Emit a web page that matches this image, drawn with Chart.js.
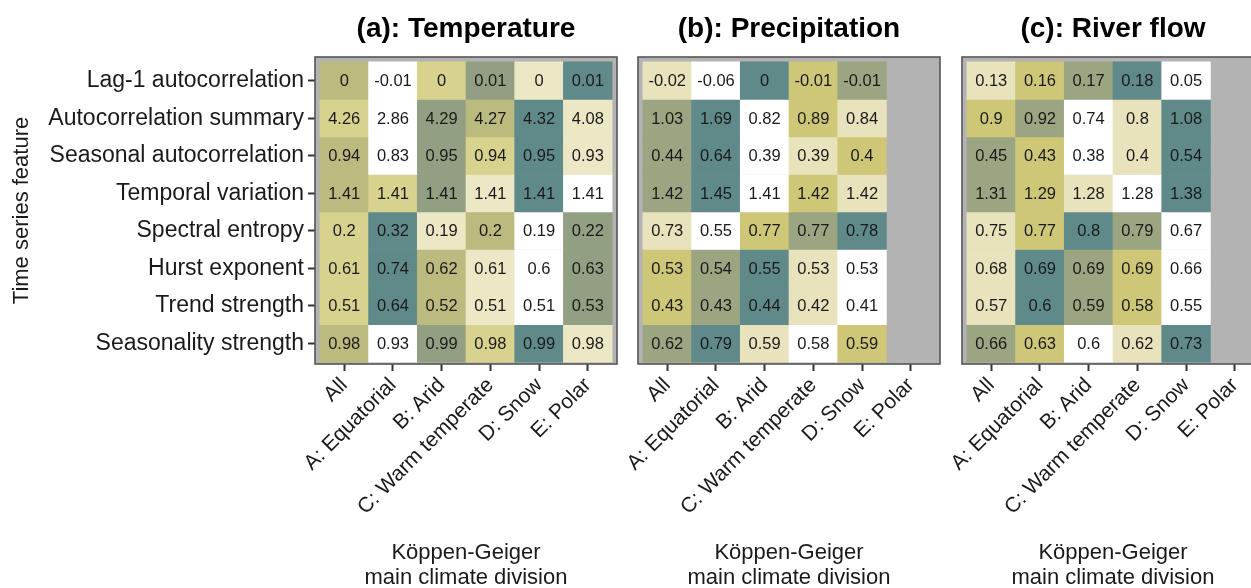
<!DOCTYPE html>
<html>
<head>
<meta charset="utf-8">
<script src="https://cdn.jsdelivr.net/npm/chart.js@4/dist/chart.umd.min.js"></script>
<style>
  body { margin: 0; width: 1251px; height: 588px; overflow: hidden; background: #fff; }
  .panel { position: absolute; top: 0; }
</style>
</head>
<body>
<div class="panel" style="left:0px"><canvas id="tempChart" width="625" height="591"></canvas></div>
<div class="panel" style="left:625px"><canvas id="precipChart" width="325" height="591"></canvas></div>
<div class="panel" style="left:950px"><canvas id="riverChart" width="320" height="591"></canvas></div>
<script>
// --- DATA ---
const climates = ['All', 'A: Equatorial', 'B: Arid', 'C: Warm temperate', 'D: Snow', 'E: Polar'];
const features = [
    'Lag-1 autocorrelation',
    'Autocorrelation summary',
    'Seasonal autocorrelation',
    'Temporal variation',
    'Spectral entropy',
    'Hurst exponent',
    'Trend strength',
    'Seasonality strength',
];

// rows = features, columns = climates
const tempValues = [
    [0, -0.01, 0, 0.01, 0, 0.01],
    [4.26, 2.86, 4.29, 4.27, 4.32, 4.08],
    [0.94, 0.83, 0.95, 0.94, 0.95, 0.93],
    [1.41, 1.41, 1.41, 1.41, 1.41, 1.41],
    [0.2, 0.32, 0.19, 0.2, 0.19, 0.22],
    [0.61, 0.74, 0.62, 0.61, 0.6, 0.63],
    [0.51, 0.64, 0.52, 0.51, 0.51, 0.53],
    [0.98, 0.93, 0.99, 0.98, 0.99, 0.98],
];
// rank of each cell within its row (1 = lowest)
const tempRanks = [
    [4, 1, 3, 5, 2, 6],
    [3, 1, 5, 4, 6, 2],
    [4, 1, 5, 3, 6, 2],
    [4, 3, 5, 2, 6, 1],
    [3, 6, 2, 4, 1, 5],
    [3, 6, 4, 2, 1, 5],
    [3, 6, 4, 2, 1, 5],
    [4, 1, 5, 3, 6, 2],
];

const precipValues = [
    [-0.02, -0.06, 0, -0.01, -0.01],
    [1.03, 1.69, 0.82, 0.89, 0.84],
    [0.44, 0.64, 0.39, 0.39, 0.4],
    [1.42, 1.45, 1.41, 1.42, 1.42],
    [0.73, 0.55, 0.77, 0.77, 0.78],
    [0.53, 0.54, 0.55, 0.53, 0.53],
    [0.43, 0.43, 0.44, 0.42, 0.41],
    [0.62, 0.79, 0.59, 0.58, 0.59],
];
const precipRanks = [
    [2, 1, 5, 3, 4],
    [4, 5, 1, 3, 2],
    [4, 5, 1, 2, 3],
    [4, 5, 1, 3, 2],
    [2, 1, 3, 4, 5],
    [3, 4, 5, 2, 1],
    [3, 4, 5, 2, 1],
    [4, 5, 2, 1, 3],
];

const riverValues = [
    [0.13, 0.16, 0.17, 0.18, 0.05],
    [0.9, 0.92, 0.74, 0.8, 1.08],
    [0.45, 0.43, 0.38, 0.4, 0.54],
    [1.31, 1.29, 1.28, 1.28, 1.38],
    [0.75, 0.77, 0.8, 0.79, 0.67],
    [0.68, 0.69, 0.69, 0.69, 0.66],
    [0.57, 0.6, 0.59, 0.58, 0.55],
    [0.66, 0.63, 0.6, 0.62, 0.73],
];
const riverRanks = [
    [2, 3, 4, 5, 1],
    [3, 4, 1, 2, 5],
    [4, 3, 1, 2, 5],
    [4, 3, 2, 1, 5],
    [2, 3, 5, 4, 1],
    [2, 5, 4, 3, 1],
    [2, 5, 4, 3, 1],
    [4, 3, 1, 2, 5],
];

// --- STYLE ---
const palette6 = ['#ffffff', '#ece8c6', '#d8d28f', '#bbbb80', '#939f82', '#5f8a89'];
const palette5 = ['#ffffff', '#e8e3bd', '#cdc777', '#9ca582', '#5f8a89'];
const FONT = "'Liberation Sans', Arial, sans-serif";
const TEXT = '#1a1a1a';

function makePanel(canvasId, title, values, ranks, palette, opts) {
    const datasets = values.map((row, r) => ({
        label: features[r],
        data: row.map((v, c) => ({ x: c, y: [r - 0.5, r + 0.5] })),
        backgroundColor: ranks[r].map((k) => palette[k - 1]),
        borderWidth: 0,
        barPercentage: 1,
        categoryPercentage: 1,
        grouped: false,
    }));

    const panelPlugin = {
        id: 'panel',
        beforeDraw(chart) {
            const { ctx, chartArea: a } = chart;
            ctx.save();
            ctx.fillStyle = '#b3b3b3';
            ctx.fillRect(a.left, a.top, a.right - a.left, a.bottom - a.top);
            ctx.restore();
        },
        afterDatasetsDraw(chart) {
            const { ctx } = chart;
            ctx.save();
            ctx.font = '16.5px ' + FONT;
            ctx.fillStyle = TEXT;
            ctx.textAlign = 'center';
            ctx.textBaseline = 'middle';
            values.forEach((row, r) => {
                chart.getDatasetMeta(r).data.forEach((bar, c) => {
                    const p = bar.getProps(['x', 'y', 'base'], true);
                    ctx.fillText(String(row[c]), p.x, (p.y + p.base) / 2 + 1);
                });
            });
            ctx.restore();
        },
        afterDraw(chart) {
            const { ctx, chartArea: a } = chart;
            ctx.save();
            ctx.strokeStyle = '#555';
            ctx.lineWidth = 1.6;
            ctx.strokeRect(a.left, a.top, a.right - a.left, a.bottom - a.top);
            // title, centred on the panel
            ctx.font = 'bold 28px ' + FONT;
            ctx.fillStyle = '#000';
            ctx.textAlign = 'center';
            ctx.textBaseline = 'alphabetic';
            ctx.fillText(title, (a.left + a.right) / 2, 37);
            ctx.restore();
        },
    };

    const yScale = {
        type: 'linear',
        reverse: true,
        min: -0.63,
        max: 7.55,
        display: opts.showY,
        afterBuildTicks: (s) => {
            s.ticks = features.map((_, i) => ({ value: i }));
        },
        ticks: {
            autoSkip: false,
            padding: 4,
            color: TEXT,
            font: { family: FONT, size: 23 },
            callback: (v) => features[v],
        },
        grid: { drawOnChartArea: false, offset: false, tickLength: 7, tickColor: '#333', tickWidth: 2 },
        border: { display: false },
        title: {
            display: opts.showY,
            text: 'Time series feature',
            color: TEXT,
            font: { family: FONT, size: 22, lineHeight: 1.2 },
            padding: { top: 9, bottom: 0 },
        },
    };
    if (opts.showY) {
        yScale.afterFit = (s) => {
            s.width = 315;
        };
    }

    new Chart(document.getElementById(canvasId), {
        type: 'bar',
        data: { datasets },
        options: {
            responsive: false,
            animation: false,
            layout: { padding: { top: 57, left: opts.padLeft, right: opts.padRight, bottom: 0 } },
            plugins: { legend: { display: false }, tooltip: { enabled: false }, title: { display: false } },
            scales: {
                x: {
                    type: 'linear',
                    offset: false,
                    min: -0.6,
                    max: 5.6,
                    afterBuildTicks: (s) => {
                        s.ticks = climates.map((_, i) => ({ value: i }));
                    },
                    afterFit: (s) => {
                        s.height = 227;
                    },
                    ticks: {
                        autoSkip: false,
                        minRotation: 45,
                        maxRotation: 45,
                        padding: 2,
                        color: TEXT,
                        font: { family: FONT, size: 21 },
                        callback: (v) => climates[v],
                    },
                    grid: { drawOnChartArea: false, offset: false, tickLength: 7, tickColor: '#333', tickWidth: 2 },
                    border: { display: false },
                    title: {
                        display: true,
                        text: ['Köppen-Geiger', 'main climate division'],
                        color: TEXT,
                        font: { family: FONT, size: 22, lineHeight: 1.15 },
                        padding: { top: 0, bottom: 0 },
                    },
                },
                y: yScale,
            },
        },
        plugins: [panelPlugin],
    });
}

makePanel('tempChart', '(a): Temperature', tempValues, tempRanks, palette6, { showY: true, padLeft: 0, padRight: 8 });
makePanel('precipChart', '(b): Precipitation', precipValues, precipRanks, palette5, { showY: false, padLeft: 13, padRight: 10 });
makePanel('riverChart', '(c): River flow', riverValues, riverRanks, palette5, { showY: false, padLeft: 12, padRight: 6 });
</script>
</body>
</html>
